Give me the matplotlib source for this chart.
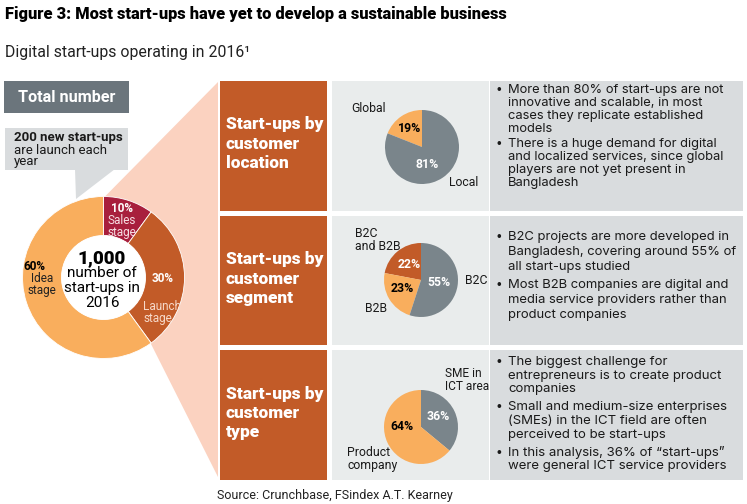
import matplotlib
matplotlib.use('Agg')
import matplotlib.pyplot as plt
from matplotlib.patches import Rectangle, Polygon, Circle

# ---------------- data ----------------
title = "Figure 3: Most start-ups have yet to develop a sustainable business"
subtitle = "Digital start-ups operating in 2016\u00b9"
source = "Source: Crunchbase, FSindex A.T. Kearney"

total_label = "Total number"
total_value = "1,000"
total_caption = ["number of", "start-ups in", "2016"]
new_per_year = ["200 new start-ups", "are launch each", "year"]

stage_names = ["Sales\nstage", "Launch\nstage", "Idea\nstage"]
stage_values = [10, 30, 60]

row_titles = [["Start-ups by", "customer", "location"],
              ["Start-ups by", "customer", "segment"],
              ["Start-ups by", "customer", "type"]]

location_names = ["Global", "Local"]
location_values = [19, 81]
segment_names = ["B2C\nand B2B", "B2B", "B2C"]
segment_values = [22, 23, 55]
type_names = ["SME in\nICT area", "Product\ncompany"]
type_values = [36, 64]

bullets = [
    [["More than 80% of start-ups are not", "innovative and scalable, in most",
      "cases they replicate established", "models"],
     ["There is a huge demand for digital", "and localized services, since global",
      "players are not yet present in", "Bangladesh"]],
    [["B2C projects are more developed in", "Bangladesh, covering around 55% of",
      "all start-ups studied"],
     ["Most B2B companies are digital and", "media service providers rather than",
      "product companies"]],
    [["The biggest challenge for", "entrepreneurs is to create product",
      "companies"],
     ["Small and medium-size enterprises", "(SMEs) in the ICT field are often",
      "perceived to be start-ups"],
     ["In this analysis, 36% of \u201cstart-ups\u201d",
      "were general ICT service providers"]],
]

# ---------------- style ----------------
W, H = 747, 504
FONT = "Roboto"
BODY = ["Inter", "Roboto", "DejaVu Sans"]
CRIMSON = "#a81f3d"
DARK = "#c25b28"
LIGHT = "#f9ae5d"
PEACH = "#fbd2c0"
PGRAY = "#7a858b"
PANEL = "#e9ecec"
TPANEL = "#d9dcde"
BOXGRAY = "#6b757c"
BUBBLE = "#d9dcde"
TXT = "#1a1a1a"

plt.rcParams['font.family'] = [FONT, 'DejaVu Sans']

fig = plt.figure(figsize=(W / 100, H / 100), dpi=100)
ax = fig.add_axes([0, 0, 1, 1])


def Y(py):
    return H - py


def txt(x, y, s, size=9, weight='normal', color=TXT, ha='left', va='center', **kw):
    ax.text(x, Y(y), s, fontsize=size, fontweight=weight, color=color,
            ha=ha, va=va, **kw)


def rect(x0, y0, x1, y1, color, z=1):
    ax.add_patch(Rectangle((x0, Y(y1)), x1 - x0, y1 - y0, facecolor=color,
                           edgecolor='none', zorder=z))


# titles
txt(5, 14, title, size=11.8, weight='heavy', color='black')
txt(5, 53, subtitle, size=11.4, color='#222222')
txt(217, 495, source, size=9.0, color='#222222')

# Total number box
rect(4, 81, 129, 113, BOXGRAY)
txt(66.5, 97, total_label, size=11.6, weight='bold', color='white', ha='center')

# speech bubble
rect(5, 128, 128, 170, BUBBLE)
ax.add_patch(Polygon([(75, Y(169)), (115, Y(169)), (76, Y(199))],
                     closed=True, facecolor=BUBBLE, edgecolor='none'))
for i, line in enumerate(new_per_year):
    txt(14, 138 + 12 * i, line, size=9.5, weight='bold' if i == 0 else 'normal')

# peach connector
cx, cy = 103.5, 277.5
ax.add_patch(Polygon([(cx, Y(198)), (218, Y(82)), (218, Y(477)), (151, Y(344)),
                      (cx, Y(cy))], closed=True, facecolor=PEACH,
                     edgecolor='none', zorder=1))

# donut
wedges, _ = ax.pie(stage_values, colors=[CRIMSON, DARK, LIGHT], radius=81,
                   center=(cx, Y(cy)), startangle=90, counterclock=False,
                   frame=True,
                   wedgeprops=dict(width=39, edgecolor='white', linewidth=0.6))
for w in wedges:
    w.set_zorder(2)
ax.add_patch(Circle((cx, Y(cy)), 42, facecolor='white', edgecolor='none', zorder=3))

txt(102, 258, total_value, size=13.5, weight='heavy', color='black', ha='center', zorder=4)
for i, line in enumerate(total_caption):
    txt(102, 273 + 15 * i, line, size=11, color='black', ha='center', zorder=4)

# donut labels
txt(122, 208, f"{stage_values[0]}%", size=8.5, weight='bold', color='white', ha='center', zorder=4)
txt(122, 226.5, stage_names[0], size=8.5, color='#f6dde2', ha='center',
    linespacing=0.95, zorder=4)
txt(163, 278, f"{stage_values[1]}%", size=8.5, weight='bold', color='white', ha='center', zorder=4)
txt(143, 312.5, stage_names[1], size=8.5, color='#f7d9c9', ha='left',
    linespacing=0.95, zorder=4)
txt(34, 266, f"{stage_values[2]}%", size=8.5, weight='bold', color='black', ha='center', zorder=4)
txt(42, 284.5, stage_names[2], size=8.5, color='#222222', ha='center',
    linespacing=0.92, zorder=4)

# rows
row_tops = [81, 216, 350]
row_bots = [211, 345, 480]
for r in range(3):
    t, b = row_tops[r], row_bots[r]
    rect(220, t, 327, b, DARK)
    rect(332, t, 489, b, PANEL)
    rect(490, t, 743, b, TPANEL)
    mid = (t + b) / 2 - 2
    for i, line in enumerate(row_titles[r]):
        txt(226, mid - 19.5 + 19.5 * i, line, size=12.4, weight='heavy', color='white')

# bullet text
bullet_layout = [(90, 13.0, 2.0, 9.3), (237, 15.0, 3.0, 9.4), (362, 13.7, 4.3, 9.5)]
for r in range(3):
    y0, step, gap, fs = bullet_layout[r]
    y = y0
    for items in bullets[r]:
        txt(499, y, "\u2022", size=fs * 0.9, color=TXT, ha='center', family=BODY)
        for line in items:
            txt(508, y, line, size=fs, color=TXT, family=BODY)
            y += step
        y += gap

# small pies
def small_pie(vals, colors, center, start, ccw):
    ws, _ = ax.pie(vals, colors=colors, radius=37, center=(center[0], Y(center[1])),
                   startangle=start, counterclock=ccw, frame=True,
                   wedgeprops=dict(edgecolor='none'))
    for w in ws:
        w.set_zorder(2)

small_pie(location_values, [LIGHT, PGRAY], (422, 147), 90, True)
txt(410, 128, f"{location_values[0]}%", size=8.8, weight='bold', color='black', ha='center', zorder=4)
txt(427, 164, f"{location_values[1]}%", size=8.8, weight='bold', color='white', ha='center', zorder=4)
txt(369, 109, location_names[0], size=8.8, ha='center')
txt(464, 183, location_names[1], size=8.8, ha='center')

small_pie(segment_values, [DARK, LIGHT, PGRAY], (421, 280), 90, True)
txt(409, 265, f"{segment_values[0]}%", size=8.8, weight='bold', color='white', ha='center', zorder=4)
txt(402, 289, f"{segment_values[1]}%", size=8.8, weight='bold', color='black', ha='center', zorder=4)
txt(439, 283, f"{segment_values[2]}%", size=8.8, weight='bold', color='white', ha='center', zorder=4)
txt(355, 240, segment_names[0], size=8.8, ha='left', linespacing=0.95)
txt(376, 309, segment_names[1], size=8.8, ha='center')
txt(476, 280, segment_names[2], size=8.8, ha='center')

small_pie(type_values, [PGRAY, LIGHT], (421, 427), 90, False)
txt(438, 416, f"{type_values[0]}%", size=8.8, weight='bold', color='white', ha='center', zorder=4)
txt(402, 427, f"{type_values[1]}%", size=8.8, weight='bold', color='black', ha='center', zorder=4)
txt(445, 380, type_names[0], size=8.6, ha='left', linespacing=0.95)
txt(347, 459, type_names[1], size=8.8, ha='left', linespacing=0.95)

ax.set_xlim(0, W)
ax.set_ylim(0, H)
ax.set_aspect('auto')
ax.axis('off')
fig.savefig('out.png', dpi=100, facecolor='white')
